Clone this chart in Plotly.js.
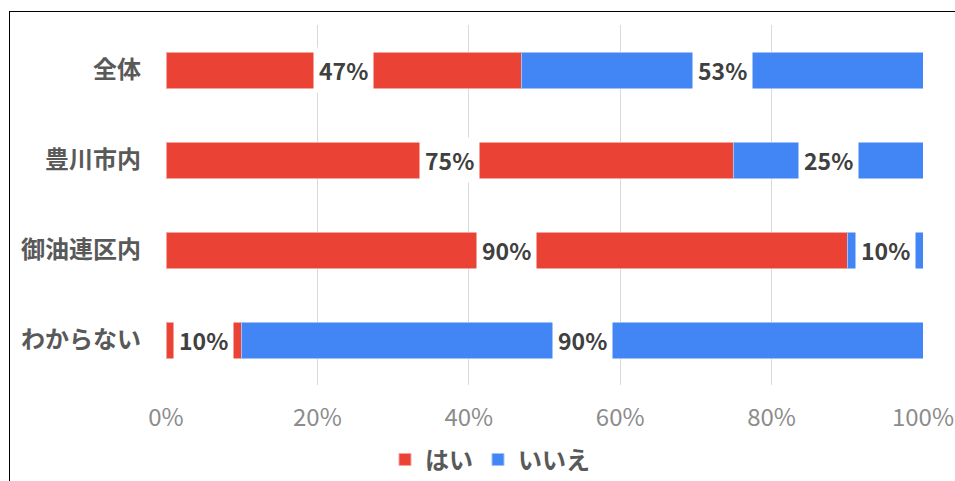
<!DOCTYPE html>
<html><head><meta charset="utf-8">
<script src="https://cdn.plot.ly/plotly-3.0.1.min.js"></script>
<style>
html,body{margin:0;padding:0;background:#fff;width:955px;height:481px;overflow:hidden;}
#frame{position:absolute;left:9px;top:11px;width:960px;height:480px;border-top:1.5px solid #000;border-left:1.5px solid #000;}
#chart{position:absolute;left:0;top:0;width:955px;height:481px;}
</style></head>
<body>
<div id="frame"></div>
<div id="chart"></div>
<script>
const categories = ["全体", "豊川市内", "御油連区内", "わからない"];
const yesValues = [47, 75, 90, 10];
const noValues = [53, 25, 10, 90];
const seriesNames = ["はい", "いいえ"];
const tickVals = [0, 20, 40, 60, 80, 100];
const tickText = ["0%", "20%", "40%", "60%", "80%", "100%"];

const red = "#EA4335", blue = "#4285F4";
const fontFam = "Noto Sans CJK JP, Noto Sans, sans-serif";

const traces = [
  {type:"bar", orientation:"h", name:seriesNames[0], y:categories, x:yesValues,
   marker:{color:red, line:{color:"#f3a59e", width:1}}, width:0.4, hoverinfo:"none"},
  {type:"bar", orientation:"h", name:seriesNames[1], y:categories, x:noValues,
   marker:{color:blue, line:{color:"#9fc0f8", width:1}}, width:0.4, hoverinfo:"none"}
];

const annotations = [];
const labFont = {family:fontFam, size:23, color:"#404040", weight:"bold"};
categories.forEach((c, i) => {
  annotations.push({x: yesValues[i]/2, y: c, xref:"x", yref:"y", text: yesValues[i] + "%",
    showarrow:false, bgcolor:"#fff", borderpad:5, font:labFont});
  annotations.push({x: yesValues[i] + noValues[i]/2, y: c, xref:"x", yref:"y", text: noValues[i] + "%",
    showarrow:false, bgcolor:"#fff", borderpad:5, font:labFont});
});

const layout = {
  width:955, height:481,
  paper_bgcolor:"rgba(0,0,0,0)", plot_bgcolor:"rgba(0,0,0,0)",
  margin:{l:166, r:32, t:25, b:96, autoexpand:false},
  barmode:"stack", bargap:0.6,
  showlegend:true,
  legend:{orientation:"h", x:0.428, xanchor:"center", y:-0.208, yanchor:"middle",
    font:{family:fontFam, size:24, color:"#595959", weight:"bold"}, itemwidth:30, traceorder:"normal"},
  xaxis:{range:[0,100], tickvals:tickVals, ticktext:tickText, showgrid:true, gridcolor:"#d9d9d9", gridwidth:1,
    zeroline:false, showline:false, ticks:"", ticklen:0, automargin:false, ticklabelstandoff:16,
    tickfont:{family:fontFam, size:24, color:"#8c8c8c"}, fixedrange:true},
  yaxis:{autorange:"reversed", showgrid:false, zeroline:false, showline:false, ticks:"", automargin:false,
    ticklabelstandoff:24,
    tickfont:{family:fontFam, size:24, color:"#595959", weight:"bold"}, fixedrange:true},
  annotations: annotations,
  font:{family:fontFam}
};

Plotly.newPlot("chart", traces, layout, {displayModeBar:false, staticPlot:true});
</script>
</body></html>
